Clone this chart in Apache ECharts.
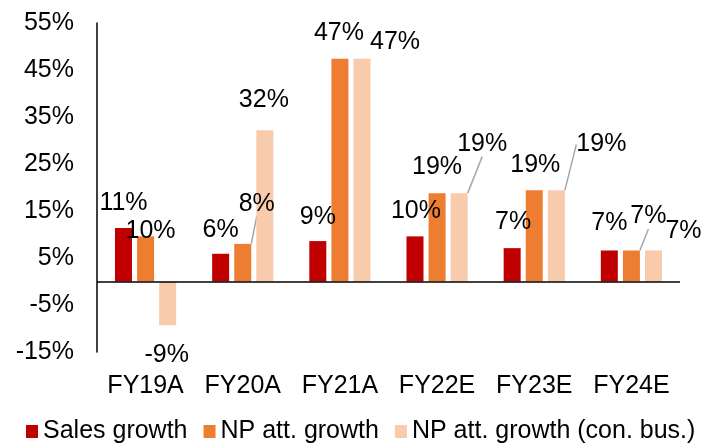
<!DOCTYPE html>
<html>
<head>
<meta charset="utf-8">
<script src="https://cdn.jsdelivr.net/npm/echarts@6/dist/echarts.min.js"></script>
<style>
  html, body { margin: 0; padding: 0; background: #fff; }
  #chart { width: 706px; height: 443px; }
</style>
</head>
<body>
<div id="chart"></div>
<script>
// Growth figures by fiscal year, in percent
const categories = ['FY19A', 'FY20A', 'FY21A', 'FY22E', 'FY23E', 'FY24E'];
const salesGrowth = [11.4, 5.9, 8.6, 9.6, 7.1, 6.6];
const npAttGrowth = [9.6, 8.0, 47.4, 18.8, 19.4, 6.6];
const npAttConBus = [-9.3, 32.2, 47.4, 18.8, 19.4, 6.6];
const seriesNames = ['Sales growth', 'NP att. growth', 'NP att. growth (con. bus.)'];
const seriesColors = ['#C00000', '#ED7D31', '#F8CBAD'];

// Value-axis labels
const yTickValues = [-15, -5, 5, 15, 25, 35, 45, 55];
const yTickLabels = ['-15%', '-5%', '5%', '15%', '25%', '35%', '45%', '55%'];

// Label centre relative to the bar's outer end: [dx, dy] per series, per category
const labelShift = [
  [[0, -25], [0, -24], [0, -24], [1, -25], [1, -26], [0, -27]],
  [[5, -5], [14, -40], [-1, -26], [0, -26], [1, -25], [17, -34]],
  [[-1, 30], [-1, -30], [33, -17], [23, -49], [45, -46], [30, -19]]
];
// Labels drawn with a guide line back to their bar: [seriesIndex, dataIndex]
const guidedLabels = [[1, 1], [2, 3], [2, 4], [1, 5]];

const allValues = [salesGrowth, npAttGrowth, npAttConBus];
const FONT = 'Arial, "Liberation Sans", sans-serif';

function hasGuide(s, i) {
  return guidedLabels.some(g => g[0] === s && g[1] === i);
}

const chart = echarts.init(document.getElementById('chart'), null, { renderer: 'canvas' });

const series = allValues.map((vals, s) => ({
  name: seriesNames[s],
  type: 'bar',
  barWidth: 17,
  barGap: '30%',
  itemStyle: { color: seriesColors[s] },
  data: vals.map((v, i) => ({ value: v, labelLine: { show: hasGuide(s, i) } })),
  label: {
    show: true,
    position: 'top',
    fontFamily: FONT,
    fontSize: 25,
    color: '#000',
    formatter: p => Math.round(p.value) + '%'
  },
  labelLine: {
    lineStyle: { color: '#A6A6A6', width: 1.5 }
  },
  labelLayout: function (p) {
    const d = labelShift[p.seriesIndex][p.dataIndex];
    const r = p.rect;
    const v = allValues[p.seriesIndex][p.dataIndex];
    const edge = v < 0 ? r.y + r.height : r.y;
    return {
      x: r.x + r.width / 2 + d[0],
      y: edge + d[1],
      align: 'center',
      verticalAlign: 'middle'
    };
  },
  markLine: s === 0 ? {
    silent: true,
    symbol: 'none',
    label: { show: false },
    lineStyle: { color: '#000', width: 1.5, type: 'solid' },
    data: [{ yAxis: 0 }]
  } : undefined
}));

chart.setOption({
  animation: false,
  backgroundColor: '#fff',
  textStyle: { fontFamily: FONT },
  grid: { left: 97, right: 26, top: 23, bottom: 91, containLabel: false },
  legend: {
    data: seriesNames,
    left: 21,
    top: 414,
    itemWidth: 12,
    itemHeight: 13,
    itemGap: 16,
    icon: 'rect',
    textStyle: { fontFamily: FONT, fontSize: 25, color: '#000' },
    selectedMode: false
  },
  xAxis: {
    type: 'category',
    data: categories,
    axisLine: { show: false, onZero: false },
    axisTick: { show: false },
    splitLine: { show: false },
    axisLabel: { interval: 0, fontFamily: FONT, fontSize: 25, color: '#000', margin: 22 }
  },
  yAxis: {
    type: 'value',
    min: -15,
    max: 55,
    interval: 5,
    axisLine: { show: true, lineStyle: { color: '#000', width: 1.5 } },
    axisTick: { show: false },
    splitLine: { show: false },
    axisLabel: {
      fontFamily: FONT,
      fontSize: 25,
      color: '#000',
      margin: 23,
      formatter: v => {
        const k = yTickValues.indexOf(Math.round(v));
        return k >= 0 ? yTickLabels[k] : '';
      }
    }
  },
  series: series
});
</script>
</body>
</html>
